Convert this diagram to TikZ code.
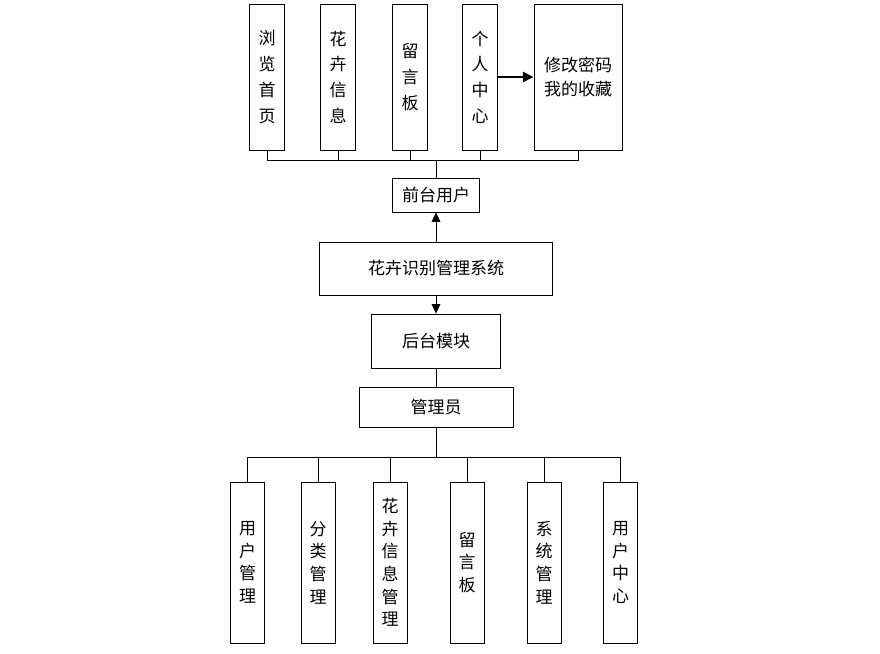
\documentclass[tikz,border=0pt]{standalone}
\usepackage{fontspec}
\newfontfamily\cjk{Noto Sans CJK SC}
\usetikzlibrary{arrows.meta}
\begin{document}
\begin{tikzpicture}[x=0.75pt,y=-0.75pt,
  box/.style={draw, line width=0.65pt, inner sep=0pt, align=center, font=\cjk\fontsize{12.75}{19.3}\selectfont},
  topbox/.style={box, minimum width=26.25pt, minimum height=109.5pt},
  botbox/.style={box, minimum width=25.5pt, minimum height=120.75pt, font=\cjk\fontsize{12.75}{17}\selectfont},
  link/.style={line width=0.65pt},
  arr/.style={link, -{Triangle[length=7pt,width=6.5pt]}},
  thickarr/.style={line width=1.6pt, -{Triangle[length=8pt,width=7.5pt]}}]
\useasboundingbox (0,0) rectangle (880,653);
% top level
\node[topbox] (b1) at (267,77) {浏\\览\\首\\页};
\node[topbox] (b2) at (338,77) {花\\卉\\信\\息};
\node[topbox] (b3) at (410,77) {留\\言\\板};
\node[topbox] (b4) at (480,77) {个\\人\\中\\心};
\node[box, minimum width=66pt, minimum height=109.5pt, font=\cjk\fontsize{12.75}{18.5}\selectfont] (b5) at (578,77) {修改密码\\我的收藏};
\node[box, minimum width=65.25pt, minimum height=25.5pt] (qt) at (436,195) {前台用户};
\node[box, minimum width=174.75pt, minimum height=39.75pt] (sys) at (436,268.5) {花卉识别管理系统};
\node[box, minimum width=96.75pt, minimum height=40.5pt] (ht) at (436,341) {后台模块};
\node[box, minimum width=115.5pt, minimum height=30pt] (gly) at (436,407) {管理员};
% bottom level
\node[botbox] (c1) at (247.5,562.5) {用\\户\\管\\理};
\node[botbox] (c2) at (318,562.5) {分\\类\\管\\理};
\node[botbox] (c3) at (390,562.5) {花\\卉\\信\\息\\管\\理};
\node[botbox] (c4) at (467,562.5) {留\\言\\板};
\node[botbox] (c5) at (544,562.5) {系\\统\\管\\理};
\node[botbox] (c6) at (620.5,562.5) {用\\户\\中\\心};
% top bus
\coordinate (tb) at (436,160);
\draw[link] (b1.south) |- (tb);
\draw[link] (b2.south) |- (tb);
\draw[link] (b3.south) |- (tb);
\draw[link] (b4.south) |- (tb);
\draw[link] (b5.south) |- (tb);
\draw[link] (tb) -- (qt.north);
\draw[thickarr] (b4.east) -- (b5.west);
% middle
\draw[arr] (sys.north) -- (qt.south);
\draw[arr] (sys.south) -- (ht.north);
\draw[link] (ht.south) -- (gly.north);
% bottom bus
\coordinate (bb) at (436,457);
\draw[link] (gly.south) -- (bb);
\draw[link] (bb) -| (c1.north);
\draw[link] (bb) -| (c2.north);
\draw[link] (bb) -| (c3.north);
\draw[link] (bb) -| (c4.north);
\draw[link] (bb) -| (c5.north);
\draw[link] (bb) -| (c6.north);
\end{tikzpicture}
\end{document}
